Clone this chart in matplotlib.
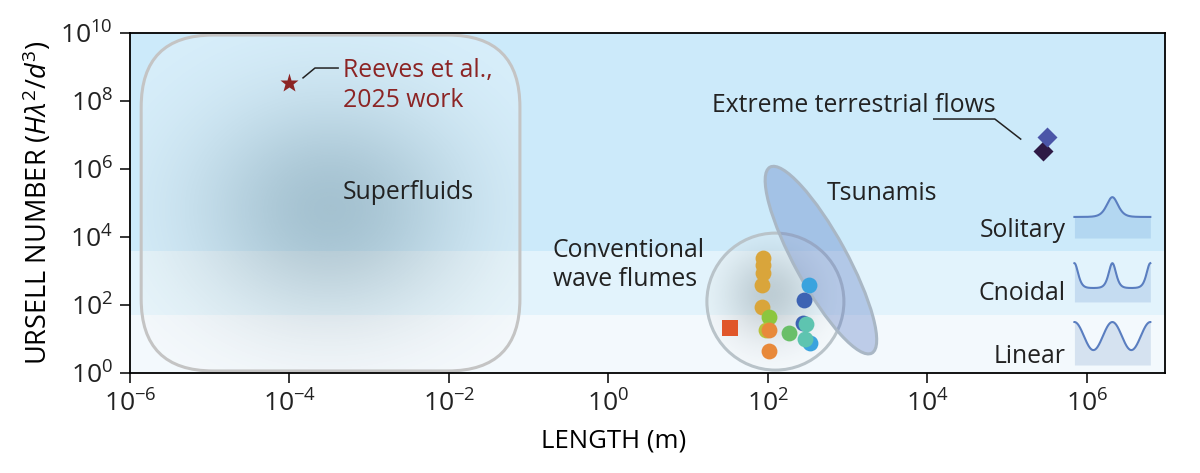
import numpy as np
import matplotlib
matplotlib.use("Agg")
import matplotlib.pyplot as plt
from matplotlib import transforms as mtransforms
from matplotlib.patches import FancyBboxPatch, Ellipse, Circle

plt.rcParams['font.family'] = ['Open Sans', 'DejaVu Sans']
plt.rcParams['mathtext.fontset'] = 'custom'
plt.rcParams['mathtext.rm'] = 'Open Sans'
plt.rcParams['mathtext.it'] = 'Open Sans:italic'
plt.rcParams['mathtext.bf'] = 'Open Sans:bold'
plt.rcParams['text.color'] = '#222222'

# --- data (length in m, Ursell number) ---
flume_length = [86.5, 86.5, 86.5, 84, 84, 103, 94, 103, 103, 33, 183,
                327, 282, 275, 300, 342, 291]
flume_ursell = [2412, 1500, 873, 387, 87, 44, 18.4, 18.4, 4.4, 21, 15,
                387, 140, 29.6, 27.6, 7.6, 10]
flume_colors = ['#d9a53b', '#d9a53b', '#d9a53b', '#d9a53b', '#d9a53b',
                '#8cc63f', '#b8c23c', '#e8893a', '#e8893a', '#e0562a', '#6abf69',
                '#3aa3de', '#3d63b3', '#3d63b3', '#5ec4b0', '#3aa3de', '#5ec4b0']
flume_markers = ['o'] * 9 + ['s'] + ['o'] * 7

reeves_length = 1.0e-4
reeves_ursell = 3.4e8

extreme_length = [2.8e5, 3.15e5]
extreme_ursell = [3.4e6, 8.7e6]
extreme_colors = ['#2e1a45', '#4b56a8']

# wave regimes: linear / cnoidal / solitary (Ursell boundaries)
band_edges = [1, 50, 4000, 1e10]
band_colors = ['#f3f9fd', '#e2f3fc', '#cceafa']
regime_names = ['Linear', 'Cnoidal', 'Solitary']

# regions, in log10 units
superfluid_box = (-5.86, -1.11, 0.06, 9.94)   # x0, x1, y0, y1
flume_circle = (2.094, 2.10)                  # centre
tsunami_ellipse = (2.665, 3.32)               # centre

fig = plt.figure(figsize=(12, 4.73), dpi=100)
ax = fig.add_axes([130 / 1200, 100 / 473, 1035 / 1200, 340 / 473])
xmin, xmax, ymin, ymax = -6, 6.98, 0, 10
sx = 1035 / (xmax - xmin)   # px per decade
sy = 340 / (ymax - ymin)


def px_trans(cx, cy):
    return mtransforms.Affine2D().scale(fig.dpi / 100) + \
        mtransforms.ScaledTranslation(cx, cy, ax.transData)


def glow(cx, cy, rx, ry, color, amax, clip, z):
    xs = np.linspace(xmin, xmax, 700)
    ys = np.linspace(ymin, ymax, 400)
    X, Y = np.meshgrid(xs, ys)
    d2 = ((X - cx) * sx / rx) ** 2 + ((Y - cy) * sy / ry) ** 2
    rgba = np.zeros(X.shape + (4,))
    rgba[..., :3] = color
    rgba[..., 3] = amax * np.exp(-d2)
    im = ax.imshow(rgba, extent=(xmin, xmax, ymin, ymax), origin='lower',
                   aspect='auto', zorder=z, interpolation='bilinear')
    im.set_clip_path(clip)


# background bands
for lo, hi, c in zip(band_edges[:-1], band_edges[1:], band_colors):
    ax.axhspan(np.log10(lo), np.log10(hi), color=c, lw=0, zorder=0)

# superfluid region
x0, x1, y0, y1 = superfluid_box
box = FancyBboxPatch((x0, y0), x1 - x0, y1 - y0,
                     boxstyle=f"round,pad=0,rounding_size={72 / sx}",
                     mutation_aspect=sx / sy, fc=(1, 1, 1, 0.25),
                     ec='none', zorder=2)
ax.add_patch(box)
glow(-3.5, 4.8, 135, 110, (70 / 255, 110 / 255, 130 / 255), 0.35, box, 2.1)
ax.add_patch(FancyBboxPatch((x0, y0), x1 - x0, y1 - y0,
                            boxstyle=f"round,pad=0,rounding_size={72 / sx}",
                            mutation_aspect=sx / sy, fc='none',
                            ec='#c4c4c4', lw=2.2, zorder=2.2))

# flume region
circ = Circle((0, 0), 68.5, transform=px_trans(*flume_circle),
              fc=(1, 1, 1, 0.25), ec='none', zorder=3)
ax.add_patch(circ)
glow(flume_circle[0] - 0.07, flume_circle[1] + 0.2, 45, 45,
     (90 / 255, 110 / 255, 120 / 255), 0.3, circ, 3.1)
ax.add_patch(Circle((0, 0), 68.5, transform=px_trans(*flume_circle),
                    fc='none', ec='#b9c3c9', lw=2.2, zorder=3.2))

# tsunami region
ax.add_patch(Ellipse((0, 0), 212, 52, angle=118.7,
                     transform=px_trans(*tsunami_ellipse),
                     fc=(0.35, 0.47, 0.76, 0.35), ec='#a9b7c5', lw=2.2,
                     zorder=3.5))

# points
for L, U, c, m in zip(flume_length, flume_ursell, flume_colors, flume_markers):
    ax.scatter(np.log10(L), np.log10(U), s=130, c=c, marker=m, lw=0, zorder=5)

ax.plot(np.log10(reeves_length), np.log10(reeves_ursell), marker='*', ms=14,
        color='#8c2424', mec='none', zorder=5)
for L, U, c in zip(extreme_length, extreme_ursell, extreme_colors):
    ax.plot(np.log10(L), np.log10(U), marker='D', ms=10, color=c, mec='none',
            zorder=5)

# labels
fs = 17.8
ax.text(-3.33, 5.12, 'Superfluids', fontsize=fs, zorder=6)
ax.text(-3.33, 8.71, 'Reeves et al.,', fontsize=fs, color='#8c2424', zorder=6)
ax.text(-3.33, 7.82, '2025 work', fontsize=fs, color='#8c2424', zorder=6)
ax.plot([-3.83, -3.68, -3.39], [8.68, 8.97, 8.97], color='#222222', lw=1.1,
        zorder=6)
ax.text(1.30, 7.68, 'Extreme terrestrial flows', fontsize=fs, zorder=6)
ax.plot([4.08, 4.846, 5.17], [7.47, 7.47, 6.88], color='#222222', lw=1.1,
        zorder=6)
ax.text(2.735, 5.10, 'Tsunamis', fontsize=fs, zorder=6)
ax.text(-0.70, 3.40, 'Conventional', fontsize=fs, zorder=6)
ax.text(-0.70, 2.55, 'wave flumes', fontsize=fs, zorder=6)

# regime icons (illustrative shapes)
icon_y = [(0.235, 1.29), (2.09, 1.20), (3.97, 1.265)]
icon_fill = ['#d5e2f0', '#c5dcf1', '#b3d7f1']
label_y = [0.30, 2.15, 4.01]
t = np.linspace(0, 1, 300)
shapes = [0.66 + 0.32 * np.cos(4 * np.pi * t),
          0.34 + 0.61 * (np.cosh((t - 0.0) / 0.065) ** -2 +
                         np.cosh((t - 0.5) / 0.065) ** -2 +
                         np.cosh((t - 1.0) / 0.065) ** -2),
          0.49 + 0.46 * np.cosh((t - 0.5) / 0.1) ** -2]
for name, (iy, ih), fc, ly, yy in zip(regime_names, icon_y, icon_fill,
                                      label_y, shapes):
    ia = ax.inset_axes([5.825, iy, 0.99, ih], transform=ax.transData, zorder=6)
    ia.fill_between(t, 0, yy, color=fc, lw=0)
    ia.plot(t, yy, color='#5a7ec0', lw=1.5)
    ia.set_xlim(-0.02, 1.02)
    ia.set_ylim(0, 1)
    ia.axis('off')
    ax.text(5.73, ly, name, fontsize=fs, ha='right', zorder=6)

# axes
ax.set_xlim(xmin, xmax)
ax.set_ylim(ymin, ymax)
ax.set_xticks(range(-6, 7, 2))
ax.set_xticklabels([f'$10^{{{k}}}$' for k in range(-6, 7, 2)])
ax.set_yticks(range(0, 11, 2))
ax.set_yticklabels([f'$10^{{{k}}}$' for k in range(0, 11, 2)])
ax.tick_params(direction='out', length=7.5, width=1.1, labelsize=19,
               pad=5, labelcolor='#222222')
for sp in ax.spines.values():
    sp.set_linewidth(1.3)
ax.set_xlabel('LENGTH (m)', fontsize=18.5, labelpad=8)
ax.xaxis.label.set_x(0.467)
ax.set_ylabel(r'URSELL NUMBER ($H\lambda^2/d^3$)', fontsize=19.5, labelpad=4)

fig.savefig('out.png', dpi=100)
